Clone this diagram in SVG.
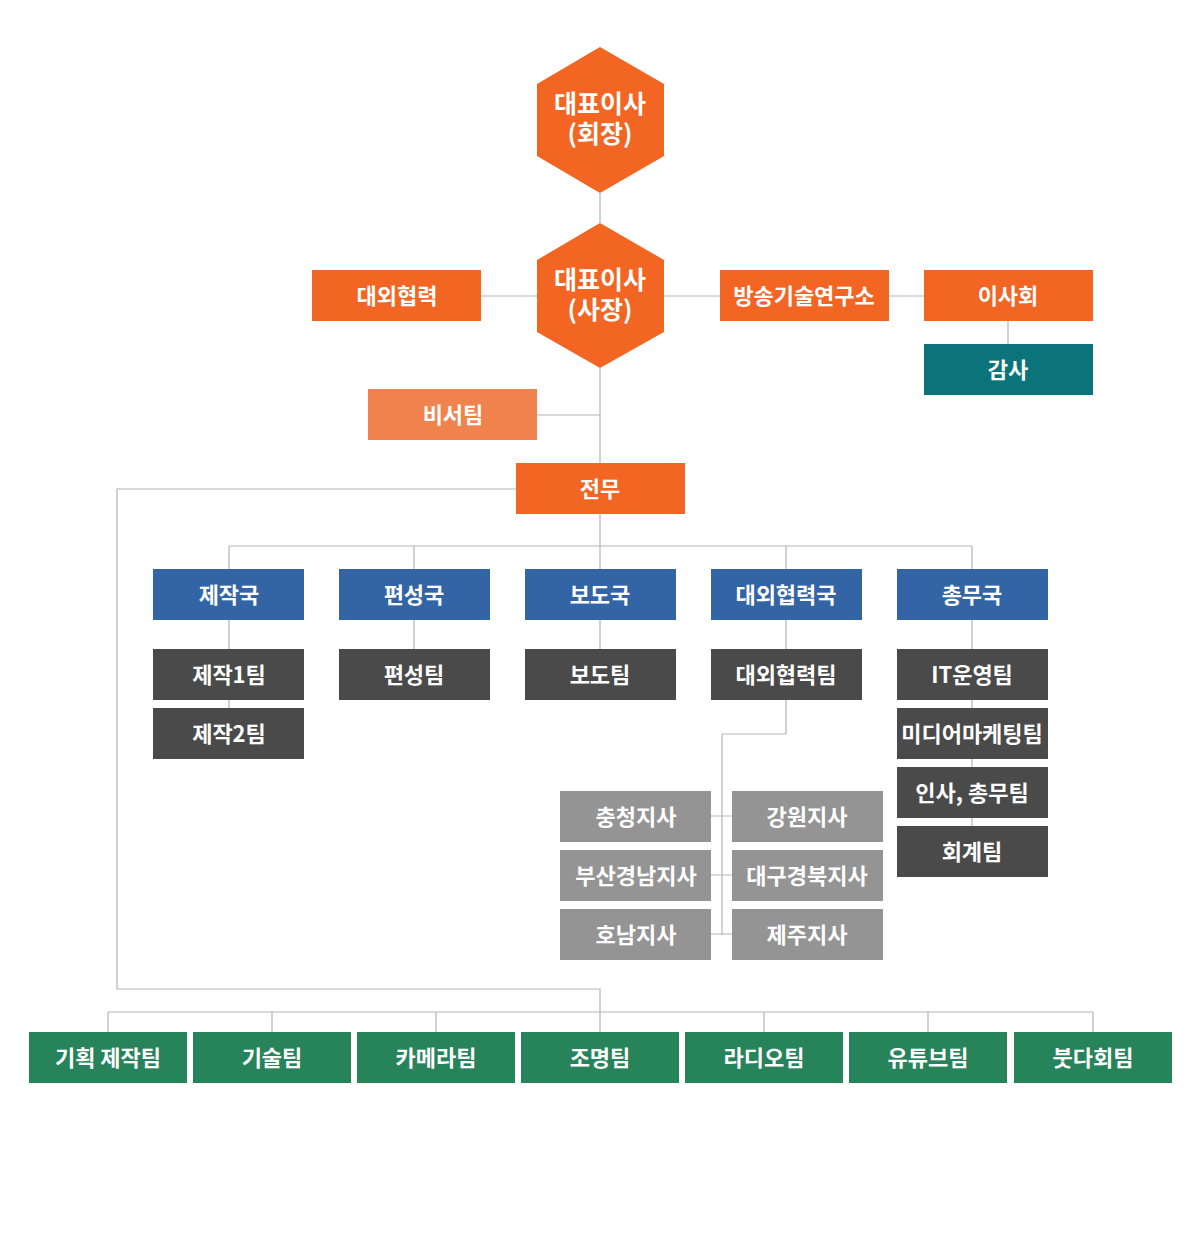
<svg xmlns="http://www.w3.org/2000/svg" width="1200" height="1235" viewBox="0 0 1200 1235">
<style>
text{font-family:"Noto Sans CJK KR","Noto Sans",sans-serif;font-weight:700;fill:#fff;text-anchor:middle;font-size:22px}
.hx{font-size:25px}
.or{fill:#f26522}
.lo{fill:#f0834d}
.tl{fill:#0b747b}
.bl{fill:#3365a6}
.dk{fill:#4a4a4a}
.gy{fill:#949494}
.gr{fill:#27835a}
.ln{fill:none;stroke:#b5b5b5;stroke-width:1.2}
</style>
<rect width="1200" height="1235" fill="#fff"/>
<g id="connectors" class="ln">
<path d="M600 193V223M481 296H537M664 296H720M889 296H924M1008 321V344M537 415H600M600 368V463"/>
<path d="M600 514V546M229 546H972M229 546V569M414 546V569M600 546V569M786 546V569M972 546V569"/>
<path d="M229 620V649M229 700V708M414 620V649M600 620V649M786 620V649M972 620V649M972 700V826"/>
<path d="M786 700V734H722V935M711 816H732M711 875H732M711 934H732"/>
<path d="M516 489H117V989H600V1032M108 1012H1093M108 1012V1032M272 1012V1032M436 1012V1032M764 1012V1032M928 1012V1032M1093 1012V1032"/>
</g>
<g id="ceo-chairman"><polygon class="or" points="600,47 664,84 664,156 600,193 537,156 537,84"/><text class="hx" x="600" y="113">대표이사<tspan x="600" dy="30">(회장)</tspan></text></g>
<g id="ceo-president"><polygon class="or" points="600,223 664,260 664,332 600,368 537,332 537,260"/><text class="hx" x="600" y="289">대표이사<tspan x="600" dy="30">(사장)</tspan></text></g>
<g id="external"><rect class="or" x="312" y="270" width="169" height="51"/><text x="397" y="304">대외협력</text></g>
<g id="lab"><rect class="or" x="720" y="270" width="169" height="51"/><text x="804" y="304">방송기술연구소</text></g>
<g id="board"><rect class="or" x="924" y="270" width="169" height="51"/><text x="1008" y="304">이사회</text></g>
<g id="audit"><rect class="tl" x="924" y="344" width="169" height="51"/><text x="1008" y="378">감사</text></g>
<g id="secretary"><rect class="lo" x="368" y="389" width="169" height="51"/><text x="453" y="423">비서팀</text></g>
<g id="managing"><rect class="or" x="516" y="463" width="169" height="51"/><text x="600" y="497">전무</text></g>
<g id="prod-bureau"><rect class="bl" x="153" y="569" width="151" height="51"/><text x="229" y="603">제작국</text></g>
<g id="prog-bureau"><rect class="bl" x="339" y="569" width="151" height="51"/><text x="414" y="603">편성국</text></g>
<g id="news-bureau"><rect class="bl" x="525" y="569" width="151" height="51"/><text x="600" y="603">보도국</text></g>
<g id="ext-bureau"><rect class="bl" x="711" y="569" width="151" height="51"/><text x="786" y="603">대외협력국</text></g>
<g id="gen-bureau"><rect class="bl" x="897" y="569" width="151" height="51"/><text x="972" y="603">총무국</text></g>
<g id="prod1"><rect class="dk" x="153" y="649" width="151" height="51"/><text x="229" y="683">제작1팀</text></g>
<g id="prod2"><rect class="dk" x="153" y="708" width="151" height="51"/><text x="229" y="742">제작2팀</text></g>
<g id="prog-team"><rect class="dk" x="339" y="649" width="151" height="51"/><text x="414" y="683">편성팀</text></g>
<g id="news-team"><rect class="dk" x="525" y="649" width="151" height="51"/><text x="600" y="683">보도팀</text></g>
<g id="ext-team"><rect class="dk" x="711" y="649" width="151" height="51"/><text x="786" y="683">대외협력팀</text></g>
<g id="it-team"><rect class="dk" x="897" y="649" width="151" height="51"/><text x="972" y="683">IT운영팀</text></g>
<g id="media-team"><rect class="dk" x="897" y="708" width="151" height="51"/><text x="972" y="742">미디어마케팅팀</text></g>
<g id="hr-team"><rect class="dk" x="897" y="767" width="151" height="51"/><text x="972" y="801">인사, 총무팀</text></g>
<g id="acct-team"><rect class="dk" x="897" y="826" width="151" height="51"/><text x="972" y="860">회계팀</text></g>
<g id="chungcheong"><rect class="gy" x="560" y="791" width="151" height="51"/><text x="636" y="825">충청지사</text></g>
<g id="gangwon"><rect class="gy" x="732" y="791" width="151" height="51"/><text x="807" y="825">강원지사</text></g>
<g id="busan"><rect class="gy" x="560" y="850" width="151" height="51"/><text x="636" y="884">부산경남지사</text></g>
<g id="daegu"><rect class="gy" x="732" y="850" width="151" height="51"/><text x="807" y="884">대구경북지사</text></g>
<g id="honam"><rect class="gy" x="560" y="909" width="151" height="51"/><text x="636" y="943">호남지사</text></g>
<g id="jeju"><rect class="gy" x="732" y="909" width="151" height="51"/><text x="807" y="943">제주지사</text></g>
<g id="plan"><rect class="gr" x="29" y="1032" width="158" height="51"/><text x="108" y="1066">기획 제작팀</text></g>
<g id="tech"><rect class="gr" x="193" y="1032" width="158" height="51"/><text x="272" y="1066">기술팀</text></g>
<g id="camera"><rect class="gr" x="357" y="1032" width="158" height="51"/><text x="436" y="1066">카메라팀</text></g>
<g id="lighting"><rect class="gr" x="521" y="1032" width="158" height="51"/><text x="600" y="1066">조명팀</text></g>
<g id="radio"><rect class="gr" x="685" y="1032" width="158" height="51"/><text x="764" y="1066">라디오팀</text></g>
<g id="youtube"><rect class="gr" x="849" y="1032" width="158" height="51"/><text x="928" y="1066">유튜브팀</text></g>
<g id="buddha"><rect class="gr" x="1014" y="1032" width="158" height="51"/><text x="1093" y="1066">붓다회팀</text></g>
</svg>
